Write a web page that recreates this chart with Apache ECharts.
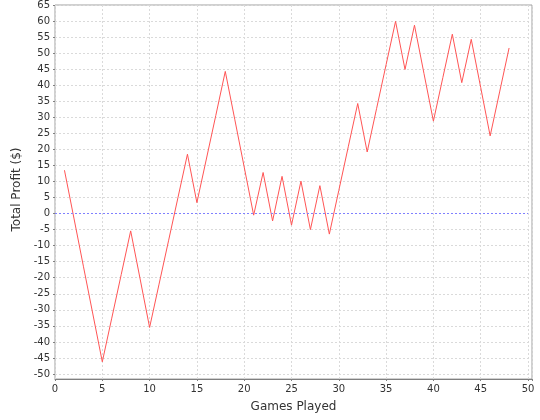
<!DOCTYPE html>
<html>
<head>
<meta charset="utf-8">
<style>
  html, body { margin: 0; padding: 0; background: #ffffff; }
  #chart { width: 540px; height: 420px; }
</style>
<script src="https://cdn.jsdelivr.net/npm/echarts@6/dist/echarts.min.js"></script>
</head>
<body>
<div id="chart"></div>
<script>
  // games played (x) and running total profit (y)
  var games = [1, 2, 3, 4, 5, 6, 7, 8, 9, 10, 11, 12, 13, 14, 15, 16,
    17, 18, 19, 20, 21, 22, 23, 24, 25, 26, 27, 28, 29, 30, 31, 32,
    33, 34, 35, 36, 37, 38, 39, 40, 41, 42, 43, 44, 45, 46, 47, 48]
  var profit = [13.5, -1.4, -16.4, -31.3, -46.2, -32.6, -19.0, -5.4, -20.4, -35.5, -22.0, -8.5, 5.0, 18.5, 3.4, 17.0,
    30.6, 44.3, 29.4, 14.5, -0.5, 12.8, -2.3, 11.6, -3.6, 10.1, -5.0, 8.7, -6.4, 7.2, 20.8, 34.3,
    19.2, 32.8, 46.4, 59.9, 44.9, 58.7, 43.7, 28.8, 42.4, 55.9, 40.8, 54.3, 39.3, 24.2, 37.9, 51.6]

  var points = games.map(function (g, i) { return [g, profit[i]] })

  var font = 'DejaVu Sans'
  var gridLine = { show: true, lineStyle: { color: '#dadada', type: [2, 2], width: 1 } }
  var zeroStyle = { color: '#8080ff', type: [2, 2], width: 1, opacity: 1 }

  var chart = echarts.init(document.getElementById('chart'))
  chart.setOption({
    animation: false,
    backgroundColor: '#ffffff',
    grid: [
      // outer plot frame (a bit wider/taller than the data range)
      { left: 55, right: 8, top: 5, bottom: 41, show: true, borderColor: '#a0a0a0', borderWidth: 1, backgroundColor: '#ffffff' },
      // data area: x 0..50, y -50..65
      { left: 55, right: 12, top: 5, bottom: 46 }
    ],
    xAxis: [
      {
        gridIndex: 0,
        type: 'value',
        min: 0,
        max: 50.42,
        interval: 5,
        name: 'Games Played',
        nameLocation: 'middle',
        nameGap: 22,
        nameTextStyle: { fontFamily: font, fontSize: 12, color: '#333333' },
        axisLine: { show: true, lineStyle: { color: '#808080' } },
        axisTick: { show: true, length: 2, lineStyle: { color: '#808080' } },
        axisLabel: {
          fontFamily: font, fontSize: 10, color: '#333333', margin: 5,
          formatter: function (v) { return v % 5 === 0 ? String(v) : '' }
        },
        splitLine: gridLine
      },
      {
        gridIndex: 1,
        type: 'value',
        min: 0,
        max: 50,
        show: false
      }
    ],
    yAxis: [
      { gridIndex: 0, type: 'value', min: 0, max: 1, show: false },
      {
        gridIndex: 1,
        type: 'value',
        min: -50,
        max: 65,
        interval: 5,
        name: 'Total Profit ($)',
        nameLocation: 'middle',
        nameGap: 28,
        nameTextStyle: { fontFamily: font, fontSize: 12, color: '#333333' },
        axisLine: { show: false },
        axisTick: { show: true, length: 2, lineStyle: { color: '#808080' } },
        axisLabel: { fontFamily: font, fontSize: 10, color: '#333333', margin: 5 },
        splitLine: gridLine
      }
    ],
    series: [
      {
        type: 'line',
        xAxisIndex: 1,
        yAxisIndex: 1,
        data: points,
        showSymbol: false,
        lineStyle: { color: '#ff5555', width: 1 },
        itemStyle: { color: '#ff5555' },
        z: 3,
        markLine: {
          silent: true,
          symbol: ['none', 'none'],
          label: { show: false },
          emphasis: { disabled: true },
          lineStyle: zeroStyle,
          data: [{ yAxis: 0 }]
        }
      }
    ]
  })
</script>
</body>
</html>
